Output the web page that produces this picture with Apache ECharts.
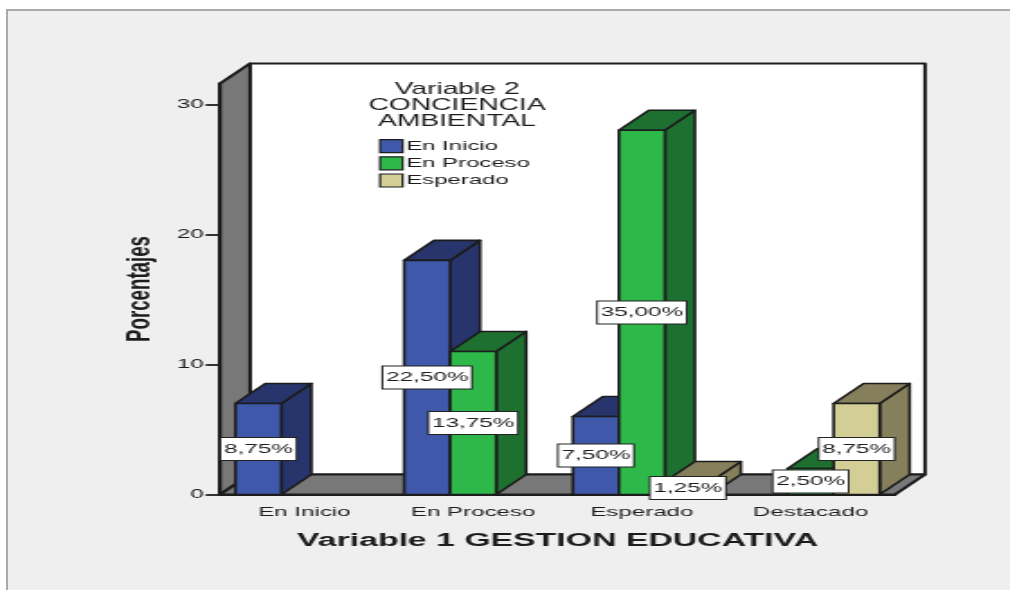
<!DOCTYPE html>
<html>
<head>
<meta charset="utf-8">
<script src="https://cdn.jsdelivr.net/npm/echarts@6/dist/echarts.min.js"></script>
<style>
html,body{margin:0;padding:0;background:#fff;width:1010px;height:590px;overflow:hidden}
#panel{position:absolute;left:6px;top:9px;width:1004px;height:581px;box-sizing:border-box;background:#efefef;border-left:2px solid #aaa;border-top:2px solid #aaa}
#chart{position:absolute;left:0;top:0;transform-origin:0 0}
</style>
</head>
<body>
<div id="panel"></div>
<div id="chart"></div>
<script>
// Data
const categories = ['En Inicio', 'En Proceso', 'Esperado', 'Destacado'];
const enInicio   = [7, 18, 6, null];
const enProceso  = [null, 11, 28, 2];
const esperado   = [null, null, 1, 7];
const enInicioLabels  = ['8,75%', '22,50%', '7,50%', null];
const enProcesoLabels = [null, '13,75%', '35,00%', '2,50%'];
const esperadoLabels  = [null, null, '1,25%', '8,75%'];
const yTicks = [0, 10, 20, 30];

// The reference is a picture stretched sideways: draw narrow, then stretch the same way.
const S = 1.8;
const W = 1010 / S, H = 590;
const DX = 30 / S, DY = 20;
const BAR_SHARE = 46 / 168.75;
const FONT = '"Liberation Sans", Arial, sans-serif';
const INK = '#1c1c1c';

const dom = document.getElementById('chart');
dom.style.width = W + 'px';
dom.style.height = H + 'px';
dom.style.transform = 'scaleX(' + S + ')';
const chart = echarts.init(dom, null, {width: W, height: H});

function barSeries(name, values, slot, front, dark) {
  return {
    name: name,
    type: 'custom',
    coordinateSystem: 'cartesian2d',
    z: 3,
    clip: false,
    itemStyle: {color: front},
    data: values.map((v, i) => [i, v]),
    encode: {x: 0, y: 1},
    renderItem(params, api) {
      const v = api.value(1);
      if (v === null || v === undefined || isNaN(v)) return null;
      const band = api.size([1, 0])[0];
      const w = band * BAR_SHARE;
      const c = api.coord([api.value(0), v]);
      const base = api.coord([api.value(0), 0]);
      const x0 = c[0] + (slot - 1.5) * w, x1 = x0 + w;
      const yt = c[1], yb = base[1];
      const line = {stroke: INK, lineWidth: 1.6, lineJoin: 'round'};
      const face = (pts, fill) => ({type: 'polygon', shape: {points: pts}, style: Object.assign({fill: fill}, line)});
      return {type: 'group', children: [
        face([[x1, yt], [x1 + DX, yt - DY], [x1 + DX, yb - DY], [x1, yb]], dark),
        face([[x0, yt], [x0 + DX, yt - DY], [x1 + DX, yt - DY], [x1, yt]], dark),
        face([[x0, yt], [x1, yt], [x1, yb], [x0, yb]], front)
      ]};
    }
  };
}

const labelRows = [];
[[enInicio, enInicioLabels, -1], [enProceso, enProcesoLabels, 0], [esperado, esperadoLabels, 1]].forEach(([vals, labs, slot]) => {
  vals.forEach((v, i) => { if (v !== null) labelRows.push([i, v, slot, labs[i]]); });
});

const option = {
  animation: false,
  backgroundColor: 'transparent',
  textStyle: {fontFamily: FONT},
  title: {
    text: 'Variable 2\nCONCIENCIA\nAMBIENTAL',
    left: 448 / S, top: 77, textAlign: 'center',
    textStyle: {fontFamily: FONT, fontWeight: 'normal', fontSize: 15.7, lineHeight: 16, color: INK}
  },
  legend: {
    orient: 'vertical', left: 379 / S, top: 139,
    data: ['En Inicio', 'En Proceso', 'Esperado'],
    icon: 'rect', itemWidth: 12.5, itemHeight: 13, itemGap: 3,
    padding: 0,
    itemStyle: {borderColor: INK, borderWidth: 1.2},
    textStyle: {fontFamily: FONT, fontSize: 13.3, color: INK, padding: [0, 0, 0, -3]}
  },
  grid: {left: 220 / S, width: 675 / S, top: 83.5, height: 411},
  xAxis: {
    type: 'category', data: categories,
    name: 'Variable 1 GESTION EDUCATIVA', nameLocation: 'middle', nameGap: 37,
    nameTextStyle: {fontFamily: FONT, fontWeight: 'bold', fontSize: 18.8, color: INK},
    axisLine: {lineStyle: {color: INK, width: 2}},
    axisTick: {alignWithLabel: true, length: 9, lineStyle: {color: '#444', width: 1.5}},
    axisLabel: {fontFamily: FONT, fontSize: 13.4, color: INK, margin: 11}
  },
  yAxis: {
    type: 'value', min: 0, max: 31.6,
    name: 'Porcentajes', nameLocation: 'middle', nameGap: 34, nameRotate: 90,
    nameTextStyle: {fontFamily: FONT, fontWeight: 'bold', fontSize: 18.7, color: INK},
    splitLine: {show: false},
    axisLine: {show: true, lineStyle: {color: INK, width: 2}},
    axisTick: {show: true, length: 8, customValues: yTicks, lineStyle: {color: '#333', width: 2}},
    axisLabel: {fontFamily: FONT, fontSize: 13.4, color: INK, margin: 9, customValues: yTicks}
  },
  series: [
    {
      type: 'custom', coordinateSystem: 'cartesian2d', z: 1, clip: false, silent: true,
      data: [0],
      renderItem(params) {
        const g = params.coordSys;
        const x = g.x, y = g.y, w = g.width, h = g.height;
        const line = {stroke: INK, lineWidth: 2, lineJoin: 'round'};
        return {type: 'group', children: [
          {type: 'polygon', shape: {points: [[x + DX, y - DY], [x + w + DX, y - DY], [x + w + DX, y + h - DY], [x + DX, y + h - DY]]}, style: Object.assign({fill: '#fff'}, line)},
          {type: 'polygon', shape: {points: [[x, y], [x + DX, y - DY], [x + DX, y + h - DY], [x, y + h]]}, style: Object.assign({fill: '#787878'}, line)},
          {type: 'polygon', shape: {points: [[x, y + h], [x + DX, y + h - DY], [x + w + DX, y + h - DY], [x + w, y + h]]}, style: Object.assign({fill: '#787878'}, line)}
        ]};
      }
    },
    barSeries('En Inicio', enInicio, 0, '#3f58a9', '#27356c'),
    barSeries('En Proceso', enProceso, 1, '#2fb84a', '#1d7030'),
    barSeries('Esperado', esperado, 2, '#d3cd96', '#857f5c'),
    {
      type: 'custom', coordinateSystem: 'cartesian2d', z: 5, clip: false, silent: true,
      data: labelRows,
      encode: {x: 0, y: 1},
      renderItem(params, api) {
        const band = api.size([1, 0])[0];
        const c = api.coord([api.value(0), api.value(1) / 2]);
        const text = labelRows[params.dataIndex][3];
        return {
          type: 'text',
          style: {
            text: text,
            x: c[0] + api.value(2) * band * BAR_SHARE,
            y: c[1],
            align: 'center', verticalAlign: 'middle',
            font: '13.5px ' + FONT,
            fill: INK,
            backgroundColor: '#fff',
            borderColor: '#222', borderWidth: 1,
            padding: [4, 1.5]
          }
        };
      }
    }
  ]
};
chart.setOption(option);
</script>
</body>
</html>
